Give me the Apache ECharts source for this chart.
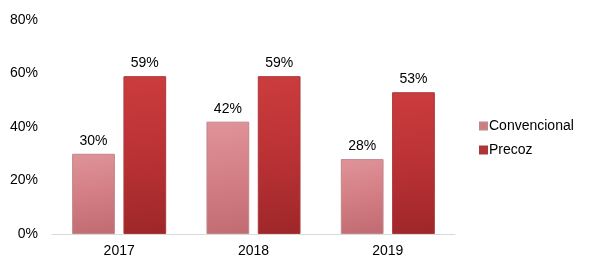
<!DOCTYPE html>
<html>
<head>
<meta charset="utf-8">
<script src="https://cdn.jsdelivr.net/npm/echarts@6/dist/echarts.min.js"></script>
<style>html,body{margin:0;padding:0;background:#fff}#c{width:595px;height:275px}</style>
</head>
<body>
<div id="c"></div>
<script>
const categories = ['2017', '2018', '2019'];
const convencional = [0.30, 0.42, 0.28];
const precoz = [0.59, 0.59, 0.53];
const yTicks = [0, 0.2, 0.4, 0.6, 0.8];

const font = 'Liberation Sans, Arial, sans-serif';
function grad(c1, c2, c3) {
  return new echarts.graphic.LinearGradient(0, 0, 0.3, 1, [
    {offset: 0, color: c1}, {offset: 0.5, color: c2}, {offset: 1, color: c3}
  ]);
}
const convColor = grad('#df9499', '#d47f85', '#c26d73');
const precColor = grad('#cb3c3e', '#bb3235', '#9f2729');

const chart = echarts.init(document.getElementById('c'), null, {renderer: 'canvas'});
const pct = v => Math.round(v * 100) + '%';
chart.setOption({
  animation: false,
  grid: {left: 52, right: 140, top: 20, bottom: 41},
  legend: {
    orient: 'vertical', left: 474, top: 114, itemWidth: 7, itemHeight: 7, itemGap: 10,
    textStyle: {fontFamily: font, fontSize: 14, color: '#000', padding: [0, 0, 0, -3]},
    data: [{name: 'Convencional', icon: 'rect', itemStyle: {color: '#d07a80'}},
           {name: 'Precoz', icon: 'rect', itemStyle: {color: '#b93134'}}]
  },
  xAxis: {
    type: 'category', data: categories,
    axisLine: {lineStyle: {color: '#d9d9d9', width: 1}},
    axisTick: {show: false},
    axisLabel: {fontFamily: font, fontSize: 14, color: '#000', margin: 10}
  },
  yAxis: {
    type: 'value', min: yTicks[0], max: yTicks[yTicks.length - 1], interval: 0.2,
    splitLine: {show: false}, axisLine: {show: false}, axisTick: {show: false},
    axisLabel: {fontFamily: font, fontSize: 14, color: '#000', margin: 14, formatter: pct}
  },
  series: [
    {name: 'Convencional', type: 'bar', data: convencional, barGap: '20%', barCategoryGap: '30%',
     itemStyle: {color: convColor, borderColor: '#c0868a', borderWidth: 1},
     label: {show: true, position: 'top', distance: 6, fontFamily: font, fontSize: 14, color: '#000', formatter: p => pct(p.value)}},
    {name: 'Precoz', type: 'bar', data: precoz,
     itemStyle: {color: precColor, borderColor: '#a8393b', borderWidth: 1},
     label: {show: true, position: 'top', distance: 6, fontFamily: font, fontSize: 14, color: '#000', formatter: p => pct(p.value)}}
  ]
});
</script>
</body>
</html>
